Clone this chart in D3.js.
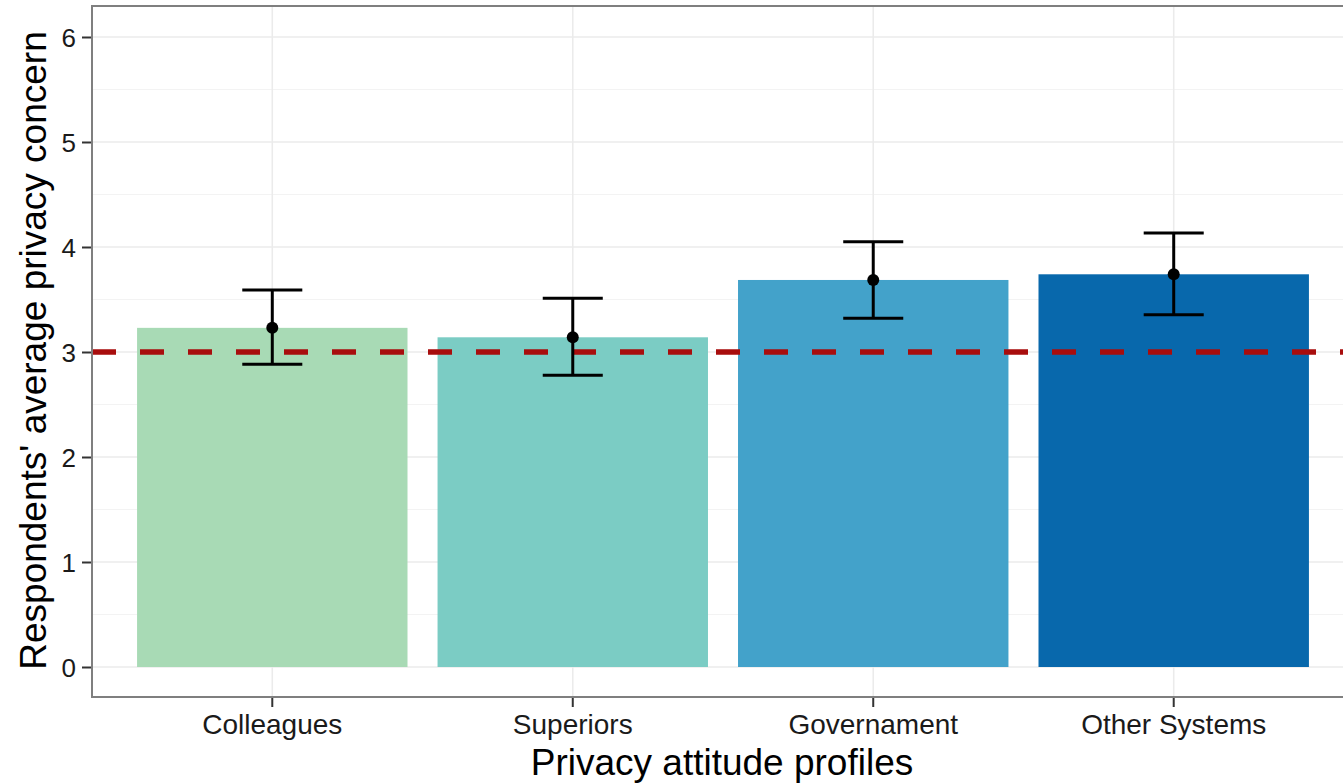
<!DOCTYPE html>
<html>
<head>
<meta charset="utf-8">
<script src="https://cdn.jsdelivr.net/npm/d3@7"></script>
<style>
  html, body { margin: 0; padding: 0; background: #ffffff; }
  svg { display: block; }
  text { font-family: "Liberation Sans", Arial, Helvetica, sans-serif; }
</style>
</head>
<body>
<svg id="chart" width="1343" height="784"></svg>
<script>
// ---- data ----
const categories = ["Colleagues", "Superiors", "Governament", "Other Systems"];
const means = [3.23, 3.14, 3.686, 3.74];
const lowerCI = [2.883, 2.778, 3.321, 3.355];
const upperCI = [3.590, 3.511, 4.051, 4.133];
const barColors = ["#a8dab5", "#7bccc4", "#43a2ca", "#0868ac"];
const yTicks = [0, 1, 2, 3, 4, 5, 6];
const yMinorTicks = [0.5, 1.5, 2.5, 3.5, 4.5, 5.5];
const referenceLine = 3;
const xTitle = "Privacy attitude profiles";
const yTitle = "Respondents' average privacy concern";

// ---- layout ----
const panel = { left: 92, top: 6, right: 1354, bottom: 697 };
const svg = d3.select("#chart");

const x = d3.scaleBand()
  .domain(categories)
  .range([panel.left, panel.right])
  .paddingInner(0.1)
  .paddingOuter(0.15);

const y = d3.scaleLinear()
  .domain([-0.2857, 6.2952])
  .range([panel.bottom, panel.top]);

const data = categories.map((c, i) => ({ cat: c, mean: means[i], lo: lowerCI[i], hi: upperCI[i], color: barColors[i] }));

// background
svg.append("rect").attr("x", panel.left).attr("y", panel.top)
  .attr("width", panel.right - panel.left).attr("height", panel.bottom - panel.top)
  .attr("fill", "#ffffff");

const g = svg.append("g");

// minor gridlines
g.selectAll("line.minor").data(yMinorTicks).enter().append("line")
  .attr("x1", panel.left).attr("x2", panel.right)
  .attr("y1", d => y(d)).attr("y2", d => y(d))
  .attr("stroke", "#f3f3f3").attr("stroke-width", 1);

// major gridlines
g.selectAll("line.majorY").data(yTicks).enter().append("line")
  .attr("x1", panel.left).attr("x2", panel.right)
  .attr("y1", d => y(d)).attr("y2", d => y(d))
  .attr("stroke", "#ebebeb").attr("stroke-width", 1.6);
g.selectAll("line.majorX").data(categories).enter().append("line")
  .attr("x1", d => x(d) + x.bandwidth() / 2).attr("x2", d => x(d) + x.bandwidth() / 2)
  .attr("y1", panel.top).attr("y2", panel.bottom)
  .attr("stroke", "#ebebeb").attr("stroke-width", 1.6);

// bars
g.selectAll("rect.bar").data(data).enter().append("rect")
  .attr("x", d => x(d.cat)).attr("width", x.bandwidth())
  .attr("y", d => y(d.mean)).attr("height", d => y(0) - y(d.mean))
  .attr("fill", d => d.color);

// reference dashed line
g.append("line")
  .attr("x1", panel.left).attr("x2", panel.right)
  .attr("y1", y(referenceLine)).attr("y2", y(referenceLine))
  .attr("stroke", "#a80d0d").attr("stroke-width", 5.5)
  .attr("stroke-dasharray", "24,24");

// error bars
const capHalf = x.bandwidth() * 0.111;
const eb = g.selectAll("g.eb").data(data).enter().append("g");
eb.append("line")
  .attr("x1", d => x(d.cat) + x.bandwidth() / 2).attr("x2", d => x(d.cat) + x.bandwidth() / 2)
  .attr("y1", d => y(d.lo)).attr("y2", d => y(d.hi))
  .attr("stroke", "#000").attr("stroke-width", 3);
eb.append("line")
  .attr("x1", d => x(d.cat) + x.bandwidth() / 2 - capHalf).attr("x2", d => x(d.cat) + x.bandwidth() / 2 + capHalf)
  .attr("y1", d => y(d.lo)).attr("y2", d => y(d.lo))
  .attr("stroke", "#000").attr("stroke-width", 3);
eb.append("line")
  .attr("x1", d => x(d.cat) + x.bandwidth() / 2 - capHalf).attr("x2", d => x(d.cat) + x.bandwidth() / 2 + capHalf)
  .attr("y1", d => y(d.hi)).attr("y2", d => y(d.hi))
  .attr("stroke", "#000").attr("stroke-width", 3);
eb.append("circle")
  .attr("cx", d => x(d.cat) + x.bandwidth() / 2).attr("cy", d => y(d.mean))
  .attr("r", 6).attr("fill", "#000");

// panel border
svg.append("rect").attr("x", panel.left).attr("y", panel.top)
  .attr("width", panel.right - panel.left).attr("height", panel.bottom - panel.top)
  .attr("fill", "none").attr("stroke", "#7f7f7f").attr("stroke-width", 2);

// axes
const yAxis = d3.axisLeft(y).tickValues(yTicks).tickSize(9).tickPadding(6).tickFormat(d3.format("d"));
const yg = svg.append("g").attr("transform", `translate(${panel.left - 1},0)`).call(yAxis);
yg.select(".domain").remove();
yg.selectAll(".tick line").attr("stroke", "#333").attr("stroke-width", 2);
yg.selectAll(".tick text").attr("fill", "#1a1a1a").style("font-size", "26px").attr("dy", "0.36em");

const xAxis = d3.axisBottom(x).tickSize(9).tickPadding(7);
const xg = svg.append("g").attr("transform", `translate(0,${panel.bottom + 1})`).call(xAxis);
xg.select(".domain").remove();
xg.selectAll(".tick line").attr("stroke", "#333").attr("stroke-width", 2);
xg.selectAll(".tick text").attr("fill", "#1a1a1a").style("font-size", "28px");

// titles
svg.append("text")
  .attr("x", 722).attr("y", 775)
  .attr("text-anchor", "middle").attr("fill", "#000")
  .style("font-size", "37px").text(xTitle);

svg.append("text")
  .attr("transform", `translate(46,${(panel.top + panel.bottom) / 2 - 1}) rotate(-90)`)
  .attr("text-anchor", "middle").attr("fill", "#000")
  .style("font-size", "37px").text(yTitle);
</script>
</body>
</html>
